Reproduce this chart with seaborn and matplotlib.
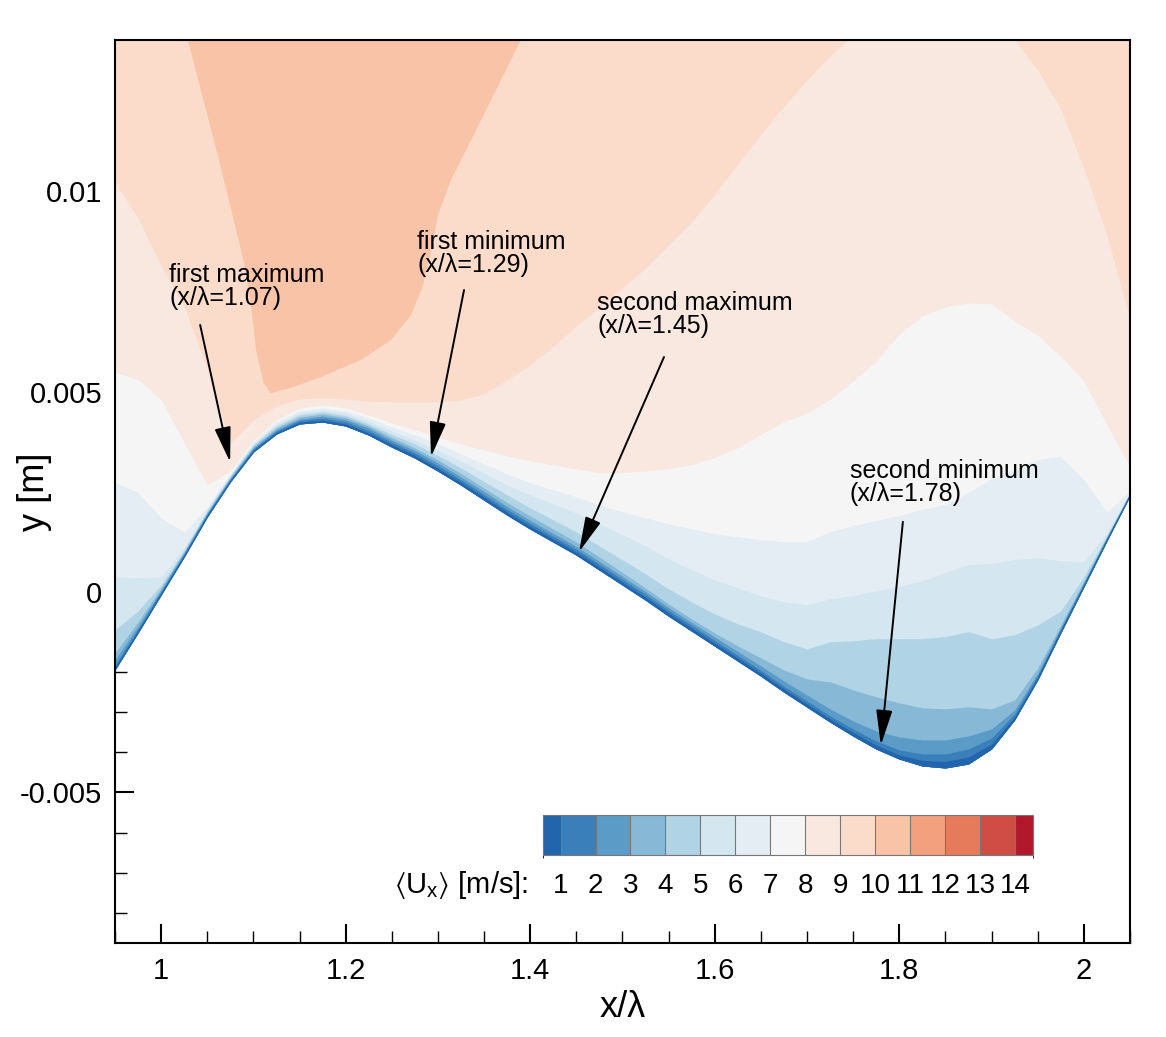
import numpy as np
import pandas as pd
import matplotlib
matplotlib.use("Agg")
import matplotlib.pyplot as plt
import matplotlib.colors as mcolors
from matplotlib.ticker import MultipleLocator, FuncFormatter, FixedLocator
import seaborn as sns

# stations along the wave, x / lambda
x_stations = [0.950, 0.975, 1.000, 1.025, 1.050, 1.075, 1.100, 1.125, 1.150,
              1.175, 1.200, 1.225, 1.250, 1.275, 1.300, 1.325, 1.350, 1.375,
              1.400, 1.425, 1.450, 1.475, 1.500, 1.525, 1.550, 1.575, 1.600,
              1.625, 1.650, 1.675, 1.700, 1.725, 1.750, 1.775, 1.800, 1.825,
              1.850, 1.875, 1.900, 1.925, 1.950, 1.975, 2.000, 2.025, 2.050]

# wall height y [mm]
wall_mm = [-1.945, -1.022, -0.075, 0.873, 1.870, 2.743, 3.491, 3.940, 4.190,
           4.239, 4.140, 3.915, 3.616, 3.342, 3.017, 2.668, 2.294, 1.920,
           1.571, 1.247, 0.923, 0.549, 0.175, -0.200, -0.599, -0.973, -1.347,
           -1.721, -2.095, -2.494, -2.868, -3.242, -3.591, -3.915, -4.165, -4.339,
           -4.389, -4.290, -3.915, -3.192, -2.195, -1.022, 0.125, 1.272, 2.394]

# height above the wall [um] of the <Ux> = 1 ... 8 m/s contour lines
u1_um = [55, 50, 45, 38, 35, 35, 38, 40, 45, 50, 50, 55, 60, 65, 65, 68, 70, 70,
         70, 70, 70, 70, 70, 70, 70, 70, 70, 72, 72, 75, 75, 75, 88, 95, 100, 138,
         162, 175, 125, 75, 62, 55, 50, 40, 25]
u2_um = [125, 100, 80, 70, 65, 62, 70, 75, 88, 100, 105, 112, 120, 125, 130, 132,
         135, 138, 138, 138, 138, 138, 138, 138, 138, 138, 138, 138, 138, 142, 150,
         150, 175, 200, 225, 300, 350, 375, 275, 150, 112, 95, 80, 62, 38]
u3_um = [250, 175, 125, 105, 100, 92, 105, 112, 125, 150, 162, 175, 175, 188, 200,
         200, 212, 212, 212, 212, 212, 212, 212, 212, 212, 212, 225, 238, 250, 275,
         300, 325, 375, 450, 550, 650, 700, 700, 500, 250, 175, 138, 112, 88, 50]
u4_um = [425, 275, 175, 138, 125, 120, 138, 150, 175, 200, 212, 225, 238, 250, 275,
         288, 300, 312, 325, 325, 325, 325, 312, 300, 300, 300, 325, 375, 450, 550,
         700, 1000, 1150, 1300, 1400, 1450, 1475, 1425, 1000, 500, 300, 200, 150,
         112, 62]
u5_um = [1000, 550, 250, 175, 162, 150, 175, 200, 225, 250, 262, 275, 312, 350,
         388, 425, 462, 500, 525, 550, 575, 600, 625, 650, 675, 725, 800, 925, 1100,
         1250, 1450, 2000, 2375, 2750, 3000, 3175, 3275, 3300, 2750, 2125, 1375,
         550, 250, 150, 75]
u6_um = [2325, 1375, 450, 225, 200, 175, 212, 250, 275, 300, 325, 350, 400, 450,
         525, 600, 675, 750, 850, 950, 1050, 1150, 1250, 1350, 1425, 1525, 1650,
         1825, 2000, 2250, 2550, 3075, 3500, 3950, 4300, 4625, 4875, 4975, 4625,
         4000, 3050, 1800, 625, 200, 100]
u7_um = [4675, 3500, 1925, 625, 250, 200, 250, 300, 325, 350, 375, 425, 500, 575,
         675, 775, 900, 1025, 1150, 1300, 1450, 1625, 1825, 2050, 2300, 2550, 2800,
         3100, 3400, 3750, 4125, 4750, 5250, 5700, 6075, 6400, 6575, 6775, 6750,
         6250, 5500, 4400, 2675, 725, 125]
u8_um = [7425, 6325, 4875, 2850, 800, 275, 300, 350, 400, 425, 450, 500, 600, 700,
         850, 1025, 1250, 1475, 1700, 1925, 2150, 2425, 2800, 3225, 3675, 4150,
         4700, 5325, 6025, 6750, 7325, 8050, 8850, 9675, 10600, 11225, 11500, 11500,
         11100, 9950, 8600, 6900, 5125, 2900, 725]

# absolute height [mm] of the <Ux> = 9 m/s line (15 = above the view)
u9_mm = [10.20, 9.33, 8.13, 7.11, 5.56, 3.72, 4.29, 4.64, 4.81, 4.84, 4.81, 4.76,
         4.74, 4.74, 4.74, 4.79, 4.94, 5.29, 5.66, 6.13, 6.63, 7.11, 7.58, 8.08,
         8.65, 9.23, 9.93, 10.67, 11.42, 12.12, 12.77, 13.37, 13.89, 15.0, 15.0,
         15.0, 15.0, 15.0, 15.0, 13.77, 13.02, 12.04, 10.57, 8.90, 6.78]

# outline of the <Ux> > 10 m/s patch
u10_x = [1.029, 1.029, 1.043, 1.060, 1.076, 1.090, 1.098, 1.103, 1.111, 1.119,
         1.141, 1.173, 1.217, 1.249, 1.271, 1.284, 1.293, 1.300, 1.314, 1.336,
         1.363, 1.390, 1.390]
u10_mm = [15.0, 13.77, 12.52, 11.02, 9.53, 8.20, 7.03, 6.03, 5.21, 4.96, 5.09,
          5.36, 5.79, 6.28, 6.91, 7.66, 8.53, 9.40, 10.27, 11.27, 12.52, 13.77, 15.0]

levels = list(range(1, 15))
level_colors = ["#2166ac", "#3a7fba", "#5a9bc8", "#87b9d7", "#b0d3e6", "#d4e6ef",
                "#e5edf4", "#f5f5f5", "#f9e8df", "#fbdccb", "#f8c3a7", "#f2a07d",
                "#e67b5c", "#cf4d45", "#b2182b"]

ann_text = ["first maximum\n(x/λ=1.07)", "first minimum\n(x/λ=1.29)",
            "second maximum\n(x/λ=1.45)", "second minimum\n(x/λ=1.78)"]
ann_text_xy = [(1.0087, 8.20), (1.2774, 9.03), (1.4724, 7.51), (1.7465, 3.32)]
ann_tail_xy = [(1.0423, 6.66), (1.3283, 7.53), (1.545, 5.86), (1.8039, 1.75)]
ann_tip_xy = [(1.0748, 3.24), (1.2925, 3.37), (1.4529, 1.00), (1.780, -3.82)]

sns.set_style("ticks")
plt.rcParams['font.family'] = ['Liberation Sans', 'DejaVu Sans']
plt.rcParams['text.color'] = 'black'
plt.rcParams['axes.labelcolor'] = 'black'
plt.rcParams['xtick.color'] = 'black'
plt.rcParams['ytick.color'] = 'black'
plt.rcParams['axes.unicode_minus'] = False
plt.rcParams['mathtext.fontset'] = 'custom'
plt.rcParams['mathtext.rm'] = 'Liberation Sans'
plt.rcParams['mathtext.it'] = 'Liberation Sans:italic'
plt.rcParams['mathtext.fallback'] = 'stixsans'

palette = sns.color_palette(level_colors)

fig = plt.figure(figsize=(11.66, 10.37), dpi=100)
ax = fig.add_axes([0.0986, 0.0907, 0.8705, 0.8707])
ax.set_facecolor("white")

x = np.array(x_stations)
wall = np.array(wall_mm) / 1000

# 9-10 m/s everywhere above the wall, then the other bands painted on top
ax.fill_between(x, wall, 0.02, color=palette[9], lw=0)
ax.fill(np.array(u10_x), np.array(u10_mm) / 1000, color=palette[10], lw=0)
ax.fill_between(x, wall, np.array(u9_mm) / 1000, color=palette[8], lw=0)
layers = [u1_um, u2_um, u3_um, u4_um, u5_um, u6_um, u7_um, u8_um]
for k in range(8, 0, -1):
    top = wall + np.array(layers[k - 1]) * 1e-6
    ax.fill_between(x, wall, top, color=palette[k - 1], lw=0)

df_wall = pd.DataFrame({"x": x, "wall": wall})
sns.lineplot(data=df_wall, x="x", y="wall", color=palette[0], lw=0.8, ax=ax)

for txt, pos, tail, tip in zip(ann_text, ann_text_xy, ann_tail_xy, ann_tip_xy):
    ax.text(pos[0], pos[1] / 1000, txt, ha='left', va='top', fontsize=18,
            linespacing=0.95, color='black')
    ax.annotate("", xy=(tip[0], tip[1] / 1000), xytext=(tail[0], tail[1] / 1000),
                arrowprops=dict(arrowstyle="-|>,head_length=1.08,head_width=0.25",
                                color='black', lw=1.4, mutation_scale=20,
                                shrinkA=0, shrinkB=0))

ax.set_xlim(0.95, 2.05)
ax.set_ylim(-0.008753, 0.013766)
ax.xaxis.set_major_locator(FixedLocator([1, 1.2, 1.4, 1.6, 1.8, 2]))
ax.xaxis.set_minor_locator(MultipleLocator(0.05))
ax.yaxis.set_major_locator(FixedLocator([-0.005, 0, 0.005, 0.01]))
ax.yaxis.set_minor_locator(MultipleLocator(0.001))
fmt = FuncFormatter(lambda v, p: f"{v:g}")
ax.xaxis.set_major_formatter(fmt)
ax.yaxis.set_major_formatter(fmt)
ax.tick_params(which='major', direction='in', length=14, width=1.5, labelsize=21,
               color='black', labelcolor='black', top=False, right=False)
ax.tick_params(which='minor', direction='in', length=8.5, width=1.0,
               color='black', top=False, right=False)
ax.tick_params(axis='x', which='major', pad=10)
ax.tick_params(axis='y', which='major', pad=9)
for s in ax.spines.values():
    s.set_linewidth(1.5)
    s.set_color('black')
    s.set_zorder(5)

ax.set_xlabel("x/λ", fontsize=26, color='black')
ax.set_ylabel("y [m]", fontsize=26, color='black')
ax.xaxis.set_label_coords(0.5, -0.052)
ax.yaxis.set_label_coords(-0.062, 0.5)

# colour legend
cmap = mcolors.ListedColormap(level_colors)
bounds = [0.5] + levels + [14.5]
norm = mcolors.BoundaryNorm(bounds, cmap.N)
sm = plt.cm.ScalarMappable(cmap=cmap, norm=norm)
cax = fig.add_axes([0.4657, 0.1755, 0.4202, 0.0386])
cb = fig.colorbar(sm, cax=cax, orientation='horizontal', spacing='proportional',
                  ticks=levels, drawedges=True)
cb.outline.set_edgecolor('#777777')
cb.outline.set_linewidth(0.8)
cb.dividers.set_color('#777777')
cb.dividers.set_linewidth(0.8)
cax.tick_params(length=0, pad=13, labelsize=20, labelcolor='black')
cax.set_xticklabels([str(v) for v in levels])
fig.text(0.4530, 0.1389, r"$\langle\mathrm{U}_\mathrm{x}\rangle$ [m/s]:",
         ha='right', va='baseline', fontsize=21, color='black')

fig.savefig("out.png", dpi=100)
